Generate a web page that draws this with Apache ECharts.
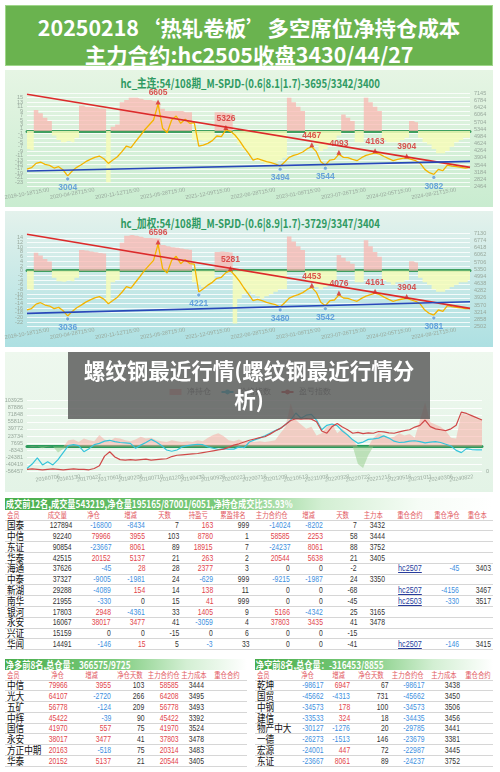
<!DOCTYPE html>
<html><head><meta charset="utf-8">
<script src="https://cdn.jsdelivr.net/npm/echarts@6.0.0/dist/echarts.min.js"></script>
<style>
html,body{margin:0;padding:0;background:#fff;}
body{width:500px;height:772px;position:relative;overflow:hidden;font-family:"Noto Sans CJK SC","Noto Sans",sans-serif;}
#hdr{position:absolute;left:5px;top:5px;width:486px;height:59px;background:#6ab34f;border:1px solid #9fd68a;color:#fff;font-weight:bold;font-size:21px;text-align:center;}
#hdr div{position:absolute;left:0;right:0;line-height:26px;white-space:nowrap;}
#hdr span{display:inline-block;transform:scaleX(1.02);}
.pbg{position:absolute;left:5px;width:488px;}
.ptitle{position:absolute;left:0;width:500px;text-align:center;font-weight:bold;font-size:12px;line-height:14px;color:#2f9a62;white-space:nowrap;}
.ptitle span{display:inline-block;transform:scaleX(0.8);}
#chart{position:absolute;left:0;top:0;width:500px;height:495px;}
#ovl{position:absolute;left:68px;top:352px;width:362px;height:67px;background:rgba(88,88,88,0.82);color:#fff;font-weight:bold;font-size:21.5px;line-height:29px;text-align:center;padding-top:3px;box-sizing:border-box;}
.tbl{position:absolute;background:#fff;}
.ttl{color:#fff;font-weight:bold;font-size:10px;white-space:nowrap;overflow:hidden;}
.ttl span{display:inline-block;transform:scaleX(0.82);transform-origin:left center;padding-left:1px;}
.tr{display:flex;border-bottom:1px solid #d6d6d6;box-sizing:border-box;}
.tc{display:flex;align-items:center;white-space:nowrap;box-sizing:border-box;padding:0 2px;overflow:visible;height:100%;}
.tc span{display:inline-block;line-height:1;}
</style>
</head>
<body>
<div id="hdr">
  <div style="top:8px"><span id="h1"></span></div>
  <div style="top:35px"><span id="h2"></span></div>
</div>
<div class="pbg" style="top:70px;height:137px;background:linear-gradient(#e6f5e4,#c9ecd0);"></div>
<div class="pbg" style="top:211px;height:136px;background:linear-gradient(#e4f2ec,#ade0e2);"></div>
<div class="pbg" style="top:352px;height:140px;background:linear-gradient(#eef8ee,#e3f3e6);"></div>
<div class="ptitle" style="top:76px"><span id="t1"></span></div>
<div class="ptitle" style="top:216px"><span id="t2"></span></div>
<div id="chart"></div>
<div id="ovl"></div>
<script>
// ---------- text ----------
const headerLine1 = '20250218‘热轧卷板’多空席位净持仓成本';
const headerLine2 = '主力合约:hc2505收盘3430/44/27';
const panelTitle1 = 'hc_主连:54/108期_M-SPJD-(0.6|8.1|1.7)-3695/3342/3400';
const panelTitle2 = 'hc_加权:54/108期_M-SPJD-(0.6|8.9|1.7)-3729/3347/3404';
const overlayText = ['螺纹钢最近行情(螺纹钢最近行情分', '析)'];
const legend3 = ['净持仓', '价格指数', '盈亏指数'];

// ---------- panel 1 / 2 data ----------
const dates12 = ['2019-10-18','2019-11-06','2019-11-25','2019-12-12','2019-12-31','2020-01-20','2020-02-17','2020-03-05','2020-03-24','2020-04-13',
'2020-04-28','2020-05-19','2020-06-05','2020-06-24','2020-07-13','2020-07-30','2020-08-18','2020-09-04','2020-09-23','2020-10-21',
'2020-11-12','2020-12-01','2020-12-18','2021-01-07','2021-01-26','2021-02-19','2021-03-10','2021-03-29','2021-04-16','2021-05-11',
'2021-05-28','2021-06-17','2021-07-06','2021-07-23','2021-08-11','2021-08-30','2021-09-16','2021-10-11','2021-10-28','2021-11-16',
'2021-12-09','2021-12-28','2022-01-17','2022-02-11','2022-03-02','2022-03-21','2022-04-08','2022-04-28','2022-05-19','2022-06-08',
'2022-06-28','2022-07-15','2022-08-03','2022-08-22','2022-09-08','2022-09-28','2022-10-24','2022-11-10','2022-11-29','2022-12-16',
'2023-01-09','2023-02-03','2023-02-22','2023-03-13','2023-03-30','2023-04-19','2023-05-12','2023-05-31','2023-06-20','2023-07-07',
'2023-07-26','2023-08-14','2023-08-31','2023-09-20','2023-10-17','2023-11-03','2023-11-22','2023-12-11','2023-12-28','2024-01-17',
'2024-02-05','2024-03-04','2024-03-21','2024-04-10','2024-04-30','2024-05-21','2024-06-07','2024-06-27','2024-07-16','2024-08-02',
'2024-08-21','2024-09-09','2024-09-27','2024-10-23','2024-11-08','2024-11-27','2024-12-16','2025-01-22','2025-02-18'];

const price1 = [3350,3416,3634,3701,3584,3534,3400,3467,3300,3004,
3249,3433,3567,3718,3834,3935,4002,3868,3634,3801,
3968,4219,4503,4420,4721,5005,5306,5557,5807,6605,
5389,5172,5807,6008,5640,5841,5640,5674,4503,4553,
4637,4771,5005,4971,5326,5239,5055,4771,4436,4135,
3801,3868,3801,3718,3667,3600,3494,3701,3935,4035,
4102,4202,4369,4467,4219,3718,3544,3801,3834,4093,
3935,3918,3834,3767,3918,4035,4102,4163,4100,3977,
3868,3767,3834,3885,3904,3834,3767,3634,3333,3166,
3082,3333,3266,3550,3500,3467,3433,3400,3430];
const netRatio1 = [-8,-8.5,9.5,8,6,4.5,-2,-4,-5,-4.5,
-5,-3,11.5,11,10.8,10.5,10.2,10,-23,2,
3,13,14,15,15,14.5,14,14,13.5,13,
10,9,9,9,9,8.5,8.5,-4,-4,-4.5,
-4,-3.5,8.5,8.5,8,8,-3,-6,-8,-10,
-12,-13,-14,-15,-15,-14,-13,-12,15,13,
11,9,-2,-4,-6,-9,-8,-6,-4,-2,
7.5,6,4.5,-5,-5,15,13,11,9,-4,
-5,-5,-5,-4,-3,4.5,4,-3,-5,-6,
-8,-10,-10,-9,-7,-5,-4,-3,-3];
const resist1 = [7095, 3433];
const support1 = [3249, 3734];
const peakIdx1 = [29,44,63,69,77,84];
const peakVal1 = [6605,5326,4467,4093,4163,3904];
const lowIdx1 = [9,56,66,90];
const lowVal1 = [3004,3494,3544,3082];

const price2 = [3330,3400,3620,3690,3575,3525,3395,3460,3290,3036,
3260,3440,3570,3720,3830,3930,3995,3870,3640,3800,
3965,4210,4490,4410,4705,4990,5290,5540,5790,6596,
5380,5160,5790,5990,5625,5825,5630,5600,4221,4380,
4560,4700,4900,4950,5180,5281,5040,4760,4420,4120,
3790,3850,3790,3705,3650,3590,3480,3690,3920,4020,
4090,4190,4350,4453,4205,3710,3542,3790,3825,4076,
3925,3905,3825,3760,3905,4020,4090,4161,4090,3965,
3860,3760,3825,3875,3904,3825,3760,3625,3325,3160,
3081,3330,3265,3545,3495,3465,3430,3400,3404];
const netRatio2 = [-8,-8.3,7.7,6.5,5,3.9,-3,-4.5,-4.7,-4.2,
-4.5,-3,8.9,8.6,8.2,7.9,7.6,7.4,-14,-5,
-4,12,15,15.3,15,14.5,14,14,13.9,13.8,
11,10.5,10,9.8,9.5,9.2,9,-5,-6,-7,
-6,-5,8,8.2,8,7.8,-22.6,-12,-10,-9,
-10,-11,-12,-11,-10,-9,-8,-8,14.6,12.5,
10.5,8.9,-4,-5,-7,-8,-7,-6,-4,6.7,
5.5,4,3,-5,-5,13,10.5,8,6,-4,
-5,-6,-5,-5,-4,4,3.5,-3,-5,-6,
-8,-9,-9,-8,-7,-6,-5,-5,-4];
const resist2 = [7080, 3411];
const support2 = [3163, 3741];
const peakIdx2 = [29,45,63,69,77,84];
const peakVal2 = [6596,5281,4453,4076,4161,3904];
const lowIdx2 = [9,38,56,66,90];
const lowVal2 = [3036,4221,3480,3542,3081];

const yLeft1 = [-25, 17, 2];
const yRight1 = [2464, 7145, 13];
const yLeft2 = [-24, 16, 2];
const yRight2 = [2502, 7130, 13];

// ---------- panel 3 data ----------
const dates3 = ['20160215','20160321','20160425','20160601','20160706','20160808','20160909','20161021','20161130','20170106',
'20170217','20170323','20170427','20170602','20170707','20170810','20170915','20171026','20171130','20180104',
'20180208','20180322','20180426','20180601','20180710','20180813','20180917','20181024','20181203','20190110',
'20190222','20190328','20190430','20190606','20190712','20190816','20190926','20191106','20191211','20200117',
'20200221','20200330','20200508','20200611','20200716','20200820','20200928','20201104','20201209','20210115',
'20210225','20210402','20210513','20210618','20210726','20210830','20211008','20211118','20211229','20220215',
'20220328','20220427','20220527','20220624','20220722','20220825','20220929','20221108','20221215','20230119',
'20230303','20230410','20230516','20230621','20230728','20230901','20231011','20231116','20231221','20240130',
'20240306','20240415','20240527','20240708','20240822','20240927','20241031','20241210','20250117'];
const netPos3 = [0,1000,500,-4000,1000,0,-14000,-6000,14000,16000,
10000,18000,14000,12000,26000,16000,12000,20000,18000,14000,
12000,16000,22000,18000,20000,14000,12000,10000,14000,12000,
10000,12000,10000,14000,12000,20000,26000,30000,24000,14000,
12000,16000,10000,12000,10000,12000,10000,12000,14000,30000,
45000,98000,60000,50000,40000,45000,25000,30000,45000,52000,
30000,40000,28000,15000,-40000,-49000,-20000,20000,30000,25000,
20000,22000,30000,25000,28000,20000,60000,100000,55000,50000,
45000,35000,20000,18000,75000,72000,70000,62000,60000];
const priceIdx3 = [-50000,-40000,-26000,-42000,-35000,-42000,-30000,-14000,2000,4000,
2000,-12000,-5000,4000,7000,12000,14000,11000,9000,8000,
7000,-4000,3000,9000,16000,10000,2000,-8000,-11000,-8000,
-1000,2000,3500,5000,4000,-1000,-4000,-7000,-5000,-6000,
-6000,-1000,-3000,10000,15000,19000,24000,30000,36000,41000,
50000,60000,76000,64000,71000,73000,60000,38000,48000,51000,
47000,35000,26000,15000,7000,10000,16000,17000,19000,24000,
19000,12000,9000,10000,12000,13000,11000,8000,10000,11000,
9000,5000,1000,-9000,-14000,-5000,-7000,-8000,-8000];
const pnlIdx3 = [-52000,-51000,-52000,-53000,-52000,-51000,-52000,-53000,-52000,-51000,
-52000,-52000,-53000,-50000,-44000,-22000,-12000,-24000,-30000,-31000,
-30000,-31000,-30000,-29000,-31000,-30000,-29000,-28000,-23000,-20000,
-19000,-18000,-17000,-16000,-14000,-12000,-10000,-8000,-6000,-2000,
3000,6000,10000,14000,17000,20000,22000,28000,35000,41000,
50000,59000,63000,62000,63000,62000,56000,35000,30000,45000,
52000,44000,38000,30000,32000,29000,31000,30000,34000,33000,
31000,30000,33000,36000,38000,44000,48000,60000,45000,40000,
38000,36000,40000,48000,78000,75000,70000,65000,60000];
const yLeft3 = [-56457, 103925, 10];

// ---------- tables ----------
const t1Title = '成交前12名,成交量543219,净仓量195165/87001/6051,净持仓成交比35.93%';
const t1Heads = ['会员','成交量','净仓','增减','天数','持盈亏','累盈排名','主力合约仓','增减','天数','主力本','重仓合约','重仓净仓','重仓本'];
const t1Members = ['国泰','中信','东证','华泰','海通','中泰','新湖','南华','银河','永安','兴证','华闻'];
const t1Volume = [127894,92240,90854,42515,37626,37327,29288,21955,17803,16067,15159,14491];
const t1Net = [-16800,79966,-23667,20152,-45,-9005,-4089,-330,2948,38017,0,-146];
const t1NetChg = [-8434,3955,8061,5137,28,-1981,154,0,-4361,3477,0,15];
const t1Days = [7,103,89,21,28,24,14,15,33,41,-15,5];
const t1PnL = [163,8780,18915,263,2377,-629,138,41,1405,-3059,0,-3];
const t1Rank = [999,1,7,2,3,999,11,999,9,4,6,33];
const t1MainPos = [-14024,58585,-24237,20544,0,-9215,0,0,5166,37803,0,0];
const t1MainChg = [-8202,2253,8061,5638,0,-1987,0,0,-4342,3435,0,0];
const t1MainDays = [7,58,88,21,-2,24,-68,-45,25,41,-15,-41];
const t1MainCost = [3432,3444,3752,3405,null,3350,null,null,3165,3478,null,null];
const t1HeavyContract = ['','','','','hc2507','','hc2507','hc2503','','','','hc2507'];
const t1HeavyNet = [null,null,null,null,-45,null,-4156,-330,null,null,null,-146];
const t1HeavyCost = [null,null,null,null,3403,null,3467,3517,null,null,null,3415];

const t23Heads = ['会员','净仓','增减','净仓天数','主力合约仓','主力成本','重仓合约'];
const t2Title = '净多前8名,总仓量：366575/9725';
const t2Members = ['中信','光大','五矿','中辉','国信','永安','方正中期','华泰'];
const t2Net = [79966,64107,56778,45422,41970,38017,20163,20152];
const t2Chg = [3955,-2720,-124,-39,557,3477,-518,5137];
const t2Days = [103,266,209,90,75,41,75,21];
const t2Main = [58585,64208,56778,45422,41970,37803,20314,20544];
const t2Cost = [3444,3495,3493,3392,3524,3478,3483,3405];

const t3Title = '净空前8名,总仓量：-316453/8855';
const t3Members = ['乾坤','国贸','中钢','建信','物产中大','一德','宏源','东证'];
const t3Net = [-98617,-45662,-34573,-33533,-30127,-26273,-24001,-23667];
const t3Chg = [6947,-4313,178,324,-1276,-1513,447,8061];
const t3Days = [67,731,100,18,20,146,72,89];
const t3Main = [-98617,-45662,-34573,-34435,-29785,-23679,-22987,-24237];
const t3Cost = [3438,3450,3506,3456,3441,3381,3445,3752];

// ---------- header / titles ----------
document.getElementById('h1').textContent = headerLine1;
document.getElementById('h2').textContent = headerLine2;
document.getElementById('t1').textContent = panelTitle1;
document.getElementById('t2').textContent = panelTitle2;
document.getElementById('ovl').innerHTML = overlayText.join('<br>');

// ---------- chart ----------
const PINK = 'rgba(250,180,174,0.72)';
const YEL = 'rgba(246,252,184,0.85)';
function splitSign(arr, positive){ return arr.map(v => positive ? (v > 0 ? v : 0) : (v < 0 ? v : 0)); }
function pts(dates, idx, vals){ return idx.map((i, k) => [dates[i], vals[k]]); }
function ends(dates, pair){ return [[dates[0], pair[0]], [dates[dates.length - 1], pair[1]]]; }

const tickFont = {fontSize: 5.5, color: '#98a89c', fontFamily: 'Liberation Sans'};

function panelAxes(g, dates, yl, yr, rot) {
  return {
    x: {type: 'category', gridIndex: g, data: dates, boundaryGap: false,
        axisLine: {lineStyle: {color: '#3f9f5f', width: 3}}, axisTick: {show: false},
        axisLabel: Object.assign({interval: 9, rotate: rot, align: 'center', margin: 7,
          formatter: v => v + 'T15:00'}, tickFont), splitLine: {show: false}},
    yl: {type: 'value', gridIndex: g, min: yl[0], max: yl[1], interval: yl[2], position: 'left',
         axisLine: {show: false}, axisTick: {show: false},
         axisLabel: Object.assign({margin: 4}, tickFont),
         splitLine: {lineStyle: {color: 'rgba(255,255,255,0.8)', width: 1}}},
    yr: {type: 'value', gridIndex: g, min: yr[0], max: yr[1], interval: (yr[1] - yr[0]) / yr[2], position: 'right',
         axisLine: {show: false}, axisTick: {show: false},
         axisLabel: Object.assign({margin: 4, formatter: v => Math.floor(v + 0.01)}, tickFont),
         splitLine: {show: false}}
  };
}
const a1 = panelAxes(0, dates12, yLeft1, yRight1, 10);
const a2 = panelAxes(1, dates12, yLeft2, yRight2, 10);

function panelSeries(xi, yl, yr, dates, net, price, resist, support, pIdx, pVal, lIdx, lVal) {
  return [
    {type: 'line', step: 'middle', z: 1, xAxisIndex: xi, yAxisIndex: yl, data: splitSign(net, true), symbol: 'none', silent: true,
     lineStyle: {width: 0}, areaStyle: {color: PINK, origin: 0, opacity: 1}},
    {type: 'line', step: 'middle', z: 1, xAxisIndex: xi, yAxisIndex: yl, data: splitSign(net, false), symbol: 'none', silent: true,
     lineStyle: {width: 0}, areaStyle: {color: YEL, origin: 0, opacity: 1}},
    {type: 'line', z: 3, xAxisIndex: xi, yAxisIndex: yr, data: price, symbol: 'none',
     lineStyle: {color: '#f4b400', width: 1.3}},
    {type: 'line', z: 4, xAxisIndex: xi, yAxisIndex: yr, data: ends(dates, resist), symbol: 'none',
     lineStyle: {color: '#dc2a2a', width: 1.6}},
    {type: 'line', z: 4, xAxisIndex: xi, yAxisIndex: yr, data: ends(dates, support), symbol: 'none',
     lineStyle: {color: '#2748b8', width: 1.6}},
    {type: 'scatter', z: 6, xAxisIndex: xi, yAxisIndex: yr, data: pts(dates, pIdx, pVal), symbol: 'triangle', symbolSize: 5,
     symbolOffset: [0, -2], itemStyle: {color: '#d42a2a'},
     label: {show: true, position: 'top', distance: 2, fontSize: 8.5, fontWeight: 'bold', color: '#d42a2a',
             fontFamily: 'Liberation Sans', formatter: p => p.value[1]}},
    {type: 'scatter', z: 6, xAxisIndex: xi, yAxisIndex: yr, data: pts(dates, lIdx, lVal), symbol: 'circle', symbolSize: 4,
     symbolOffset: [0, 3], itemStyle: {color: '#5b9bd5', borderColor: '#fff', borderWidth: 0.6},
     label: {show: true, position: 'bottom', distance: 2, fontSize: 8.5, fontWeight: 'bold', color: '#4a8fd8',
             fontFamily: 'Liberation Sans', formatter: p => p.value[1]}}
  ];
}

const option = {
  animation: false,
  backgroundColor: 'transparent',
  legend: {top: 383, left: 'center', itemWidth: 12, itemHeight: 6, itemGap: 10,
    textStyle: {fontSize: 8, color: '#777'},
    data: [{name: legend3[0], icon: 'rect'}, {name: legend3[1]}, {name: legend3[2]}]},
  grid: [
    {left: 27, top: 93.3, width: 443, height: 93.4},
    {left: 27, top: 233.3, width: 443, height: 93.4},
    {left: 27, top: 400.7, width: 455, height: 70.6}
  ],
  xAxis: [a1.x, a2.x,
    {type: 'category', gridIndex: 2, data: dates3, boundaryGap: false,
     axisLine: {lineStyle: {color: '#2a9a5a', width: 3}}, axisTick: {show: false},
     axisLabel: Object.assign({interval: 3, rotate: 8, align: 'center', margin: 7}, tickFont),
     splitLine: {show: false}}],
  yAxis: [a1.yl, a1.yr, a2.yl, a2.yr,
    {type: 'value', gridIndex: 2, min: yLeft3[0], max: yLeft3[1], interval: (yLeft3[1] - yLeft3[0]) / yLeft3[2],
     axisLine: {show: false}, axisTick: {show: false},
     axisLabel: Object.assign({margin: 4, formatter: v => Math.floor(v + 0.01)}, tickFont),
     splitLine: {lineStyle: {color: 'rgba(255,255,255,0.9)', width: 1}}},
    {type: 'value', gridIndex: 2, min: 0, max: 1, interval: 1, position: 'right',
     axisLine: {show: false}, axisTick: {show: false},
     axisLabel: Object.assign({margin: 4, formatter: v => v === 0 ? '0' : ''}, tickFont),
     splitLine: {show: false}}],
  series: [
    ...panelSeries(0, 0, 1, dates12, netRatio1, price1, resist1, support1, peakIdx1, peakVal1, lowIdx1, lowVal1),
    ...panelSeries(1, 2, 3, dates12, netRatio2, price2, resist2, support2, peakIdx2, peakVal2, lowIdx2, lowVal2),
    {name: legend3[0], type: 'line', z: 1, xAxisIndex: 2, yAxisIndex: 4, data: splitSign(netPos3, true), symbol: 'none',
     lineStyle: {width: 0}, itemStyle: {color: '#f7b2aa'}, areaStyle: {color: 'rgba(247,170,160,0.75)', origin: 0}},
    {name: legend3[0] + ' ', type: 'line', z: 1, xAxisIndex: 2, yAxisIndex: 4, data: splitSign(netPos3, false), symbol: 'none',
     lineStyle: {width: 0}, areaStyle: {color: 'rgba(150,205,140,0.75)', origin: 0}},
    {name: legend3[1], type: 'line', z: 3, xAxisIndex: 2, yAxisIndex: 4, data: priceIdx3, symbol: 'none',
     itemStyle: {color: '#35c4da'}, lineStyle: {color: '#35c4da', width: 1.2}},
    {name: legend3[2], type: 'line', z: 3, xAxisIndex: 2, yAxisIndex: 4, data: pnlIdx3, symbol: 'none',
     itemStyle: {color: '#d04848'}, lineStyle: {color: '#d04848', width: 1.2}}
  ]
};
echarts.init(document.getElementById('chart')).setOption(option);

// ---------- tables (HTML, built from the arrays) ----------
function colorOf(v){ return v > 0 ? '#e2444a' : (v < 0 ? '#3d8fe0' : '#333'); }
function num(v, colored){ return v === null ? {t: ''} : {t: String(v), c: colored ? colorOf(v) : '#333'}; }
function renderTable(cfg) {
  const wrap = document.createElement('div');
  wrap.className = 'tbl';
  wrap.style.left = cfg.left + 'px'; wrap.style.top = cfg.top + 'px'; wrap.style.width = cfg.width + 'px';
  let html = '<div class="ttl" style="height:' + cfg.titleH + 'px;line-height:' + cfg.titleH + 'px;background:' + cfg.titleBg + '"><span>' + cfg.title + '</span></div>';
  const cell = (w, content, align, style, sx) => {
    const jc = align === 'left' ? 'flex-start' : (align === 'right' ? 'flex-end' : 'center');
    const origin = align === 'left' ? 'left' : (align === 'right' ? 'right' : 'center');
    return '<div class="tc" style="width:' + w + 'px;justify-content:' + jc + ';' + style + '"><span style="transform:scaleX(' + sx + ');transform-origin:' + origin + ' center">' + content + '</span></div>';
  };
  html += '<div class="tr" style="height:' + cfg.headH + 'px">' +
    cfg.widths.map((w, j) => cell(w, cfg.heads[j], j === 0 ? 'left' : 'center', 'color:#e2585e;font-size:7.5px;', 0.85)).join('') + '</div>';
  cfg.rows.forEach(r => {
    html += '<div class="tr" style="height:' + cfg.rowH + 'px">' +
      r.map((c, j) => {
        if (j === 0) return cell(cfg.widths[j], c.t, 'left', 'color:#111;font-size:10.5px;', 0.82);
        if (c.link) return cell(cfg.widths[j], c.t, 'center', 'color:#283c9c;font-size:8.5px;font-family:Liberation Sans;text-decoration:underline;', 0.85);
        return cell(cfg.widths[j], c.t, 'right', 'color:' + (c.c || '#333') + ';font-size:8.5px;font-family:Liberation Sans;', 0.8);
      }).join('') + '</div>';
  });
  wrap.innerHTML = html;
  document.body.appendChild(wrap);
}
const greenBar = 'linear-gradient(90deg,#47ad4b 0%,#7ccb7c 45%,#d3efd3 65%,#f6fcf6 85%,#ffffff 100%)';
renderTable({left: 5, top: 498, width: 488, titleH: 11.6, headH: 11, rowH: 10.8, title: t1Title, titleBg: greenBar,
  heads: t1Heads, widths: [35,34,39,34,34,34,36,41,33,34,28,45,29,32],
  rows: t1Members.map((m, i) => [{t: m}, num(t1Volume[i], false), num(t1Net[i], true), num(t1NetChg[i], true),
    num(t1Days[i], false), num(t1PnL[i], true), num(t1Rank[i], false), num(t1MainPos[i], true), num(t1MainChg[i], true),
    num(t1MainDays[i], false), num(t1MainCost[i], false), {t: t1HeavyContract[i], link: true},
    num(t1HeavyNet[i], true), num(t1HeavyCost[i], false)])});
const smallBar = 'linear-gradient(90deg,#47ad4b 0%,#7ccb7c 45%,#d3efd3 75%,#ffffff 100%)';
renderTable({left: 5, top: 658.5, width: 242, titleH: 11, headH: 11, rowH: 10.8, title: t2Title, titleBg: smallBar,
  heads: t23Heads, widths: [39,26,43,33,35,25,41],
  rows: t2Members.map((m, i) => [{t: m}, num(t2Net[i], true), num(t2Chg[i], true), num(t2Days[i], false),
    num(t2Main[i], true), num(t2Cost[i], false), {t: '', link: true}])});
renderTable({left: 255, top: 658.5, width: 238, titleH: 11, headH: 11, rowH: 10.8, title: t3Title, titleBg: smallBar,
  heads: t23Heads, widths: [35,35,27,38,36,36,31],
  rows: t3Members.map((m, i) => [{t: m}, num(t3Net[i], true), num(t3Chg[i], true), num(t3Days[i], false),
    num(t3Main[i], true), num(t3Cost[i], false), {t: '', link: true}])});
</script>
</body></html>
